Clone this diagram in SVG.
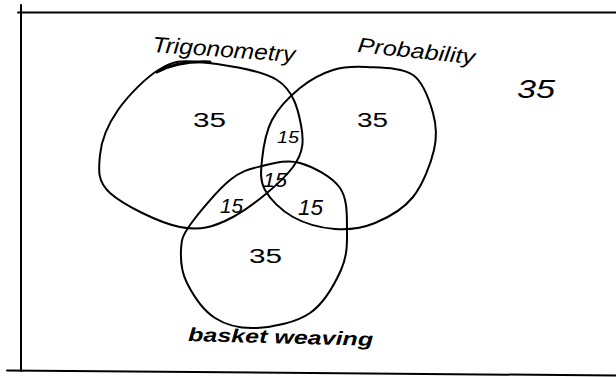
<svg xmlns="http://www.w3.org/2000/svg" width="616" height="377" viewBox="0 0 616 377">
<style>
.ln{fill:none;stroke:#000;stroke-width:2;stroke-linecap:round;stroke-linejoin:round}
.t{font-family:"Liberation Sans",Arial,sans-serif;font-style:italic;fill:#000}
.n{font-family:"Liberation Sans",Arial,sans-serif;fill:#000}
</style>
<rect width="616" height="377" fill="#fff"/>
<g id="frame">
<path class="ln" d="M18,12.5 L616,12.5"/>
<path class="ln" d="M21,5 L21,371"/>
<path class="ln" d="M7,370.5 L616,375.5"/>
</g>
<g id="trigonometry">
<path class="ln" d="M200,62 C219.5,63.8 260.2,69.5 277,80 C293.8,90.5 298.3,110.5 301,125 C303.7,139.5 304.3,151.7 293,167 C281.7,182.3 251.8,207 233,217 C214.2,227 200.5,231 180,227 C159.5,223 123.3,205 110,193 C96.7,181 98.7,168.8 100,155 C101.3,141.2 108,124.3 118,110 C128,95.7 146.3,77 160,69 C173.7,61 180.5,60.2 200,62 Z"/>
<path class="ln" style="stroke-width:3" d="M157,72 C170,65 185,61 210,62"/>
<text class="t" x="152" y="52" font-size="22" textLength="143" lengthAdjust="spacingAndGlyphs" transform="rotate(4 152 52)">Trigonometry</text>
<text class="n" x="193" y="127" font-size="20" textLength="33" lengthAdjust="spacingAndGlyphs">35</text>
</g>
<g id="probability">
<path class="ln" d="M367,67 C380.3,67.8 402,67.3 413,75 C424,82.7 429.5,100.5 433,113 C436.5,125.5 437.3,136 434,150 C430.7,164 422.8,184.8 413,197 C403.2,209.2 388,217.7 375,223 C362,228.3 348.7,230 335,229 C321.3,228 304.7,223.5 293,217 C281.3,210.5 270.2,199.5 265,190 C259.8,180.5 260.8,171.7 262,160 C263.2,148.3 265.7,132 272,120 C278.3,108 289.8,96.3 300,88 C310.2,79.7 321.8,73.5 333,70 C344.2,66.5 353.7,66.2 367,67 Z"/>
<text class="t" x="357" y="52" font-size="21" textLength="118" lengthAdjust="spacingAndGlyphs" transform="rotate(6 357 52)">Probability</text>
<text class="n" x="357" y="127" font-size="20" textLength="31" lengthAdjust="spacingAndGlyphs">35</text>
</g>
<g id="basket-weaving">
<path class="ln" d="M300,163 C313,166.7 332.2,176.8 340,188 C347.8,199.2 346.8,216.3 347,230 C347.2,243.7 347.2,256.2 341,270 C334.8,283.8 324,303.3 310,313 C296,322.7 272.8,327.2 257,328 C241.2,328.8 226.7,325.5 215,318 C203.3,310.5 192.7,294.3 187,283 C181.3,271.7 180.5,259.7 181,250 C181.5,240.3 181.8,236.7 190,225 C198.2,213.3 218,189.8 230,180 C242,170.2 250.3,168.8 262,166 C273.7,163.2 287,159.3 300,163 Z"/>
<text class="t" x="188" y="341" font-size="19" font-weight="bold" textLength="185" lengthAdjust="spacingAndGlyphs" transform="rotate(1.5 188 341)">basket weaving</text>
<text class="n" x="249" y="263" font-size="20" textLength="33" lengthAdjust="spacingAndGlyphs">35</text>
</g>
<g id="intersections">
<text class="t" x="277" y="143" font-size="16" textLength="22" lengthAdjust="spacingAndGlyphs">15</text>
<text class="t" x="263" y="187" font-size="21" textLength="24" lengthAdjust="spacingAndGlyphs">15</text>
<text class="t" x="220" y="213" font-size="21" textLength="23" lengthAdjust="spacingAndGlyphs">15</text>
<text class="t" x="298" y="215" font-size="22" textLength="25" lengthAdjust="spacingAndGlyphs">15</text>
</g>
<g id="outside">
<text class="t" x="517" y="98" font-size="25" textLength="38" lengthAdjust="spacingAndGlyphs">35</text>
</g>
</svg>
